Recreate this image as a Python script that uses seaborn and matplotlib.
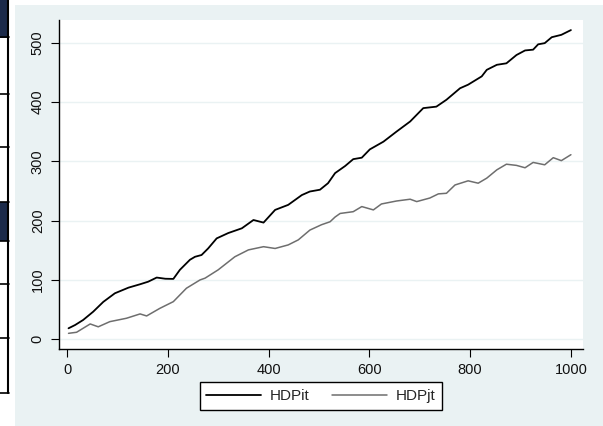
import numpy as np
import pandas as pd
import matplotlib
matplotlib.use("Agg")
import matplotlib.pyplot as plt
import seaborn as sns
from matplotlib.patches import Rectangle
from matplotlib.lines import Line2D

# ---- data ----
t_it = [3, 16, 32, 52, 72, 95, 122, 145, 161, 178, 195, 211, 224, 244, 254, 267, 280, 297,
        320, 347, 370, 390, 413, 439, 466, 482, 502, 518, 532, 552, 568, 585, 601, 628, 654,
        681, 707, 733, 753, 780, 796, 823, 833, 853, 872, 892, 909, 925, 935, 948, 962, 981, 1000]
v_it = [18.5, 24, 32.5, 46.5, 63, 77.5, 87, 92.7, 97, 104, 102, 101.7, 117, 134, 139, 142, 153,
        170, 179, 187, 201, 196.6, 218, 226.5, 243, 249, 252, 263, 280, 292, 303.5, 306, 320,
        333, 350, 367, 389.5, 392, 403.6, 423, 429, 443, 454, 462.5, 465, 479, 486.7, 488, 497,
        499, 509, 513, 521]

t_jt = [3, 19, 46, 62, 85, 118, 145, 158, 184, 211, 237, 264, 274, 300, 333, 360, 390, 413,
        439, 459, 482, 505, 522, 532, 542, 568, 585, 608, 624, 654, 681, 694, 720, 737, 753,
        770, 796, 816, 833, 853, 872, 892, 909, 925, 948, 965, 981, 1000]
v_jt = [10, 11.8, 25.8, 21, 29.7, 35.4, 42.7, 39.3, 52, 63.4, 86, 100, 103, 117, 139, 150.6,
        156, 153, 159, 167.5, 184, 193, 198, 206, 212, 215, 223.6, 218, 228, 233, 236, 232,
        238, 245, 246, 260, 267, 263, 271.5, 285.5, 295, 293, 289, 298, 294, 306, 301, 311]

series_names = ["HDPit", "HDPjt"]
x_ticks = [0, 200, 400, 600, 800, 1000]
y_ticks = [0, 100, 200, 300, 400, 500]

df = pd.concat([
    pd.DataFrame({"t": t_it, "value": v_it, "series": series_names[0]}),
    pd.DataFrame({"t": t_jt, "value": v_jt, "series": series_names[1]}),
])

sns.set_style("white")
plt.rcParams["font.family"] = ["Liberation Sans", "DejaVu Sans"]

W, H = 603, 426
fig = plt.figure(figsize=(W / 100, H / 100), dpi=100, facecolor="white")
BG = "#EAF2F3"

# outer graph region background
fig.patches.append(Rectangle((15 / W, 0), 1 - 15 / W, (H - 5) / H, transform=fig.transFigure,
                             facecolor=BG, edgecolor="none", zorder=-10))
# left-edge strip visible in the reference
navy = "#1B2A4A"
fig.patches.append(Rectangle((0, (H - 38) / H), 8 / W, 38 / H, transform=fig.transFigure,
                             facecolor=navy, edgecolor="none", zorder=-9))
fig.patches.append(Rectangle((0, (H - 241) / H), 8 / W, 39 / H, transform=fig.transFigure,
                             facecolor=navy, edgecolor="none", zorder=-9))
for yy in [37, 94, 147, 202, 241, 284, 338, 393]:
    fig.add_artist(Line2D([0, 8.5 / W], [(H - yy) / H] * 2, transform=fig.transFigure,
                          color="black", lw=1.2, zorder=-8))
fig.add_artist(Line2D([8 / W] * 2, [(H - 393) / H, 1], transform=fig.transFigure,
                      color="black", lw=1.5, zorder=-8))

ax = fig.add_axes([58.7 / W, (H - 349) / H, (583 - 58.7) / W, (349 - 20) / H])
ax.set_zorder(5)
ax.set_facecolor("white")

sns.lineplot(data=df, x="t", y="value", hue="series", palette=["#000000", "#6E6E6E"],
             ax=ax, legend=False, linewidth=1.2, estimator=None, sort=False)
for ln, lw in zip(ax.lines, [1.3, 1.1]):
    ln.set_linewidth(lw)

ax.set_xlim(-16.5, 1024)
ax.set_ylim(-16.4, 538)
ax.set_xticks(x_ticks)
ax.set_yticks(y_ticks)
ax.set_xticklabels([str(v) for v in x_ticks])
ax.set_yticklabels([str(v) for v in y_ticks], rotation=90, va="center")
ax.set_xlabel("")
ax.set_ylabel("")
ax.grid(axis="y", color=BG, linewidth=1.0)
ax.set_axisbelow(True)
for s in ["top", "right"]:
    ax.spines[s].set_visible(False)
for s in ["left", "bottom"]:
    ax.spines[s].set_color("black")
    ax.spines[s].set_linewidth(1.0)
ax.tick_params(axis="both", direction="out", length=6, width=0.8, color="black",
               labelsize=10.5, labelcolor="#111111", pad=4, left=True, bottom=True)

handles = [Line2D([], [], color="#000000", lw=1.3), Line2D([], [], color="#6E6E6E", lw=1.1)]
leg = fig.legend(handles, series_names, loc="center", bbox_to_anchor=(321 / W, (H - 396) / H),
                 ncol=2, frameon=True, fancybox=False, edgecolor="black", framealpha=1,
                 fontsize=11, handlelength=3.6, columnspacing=1.5, handletextpad=0.55,
                 borderpad=0.45)
leg.set_zorder(6)
leg.get_frame().set_linewidth(1.0)

fig.savefig("out.png", dpi=100, facecolor="white")
